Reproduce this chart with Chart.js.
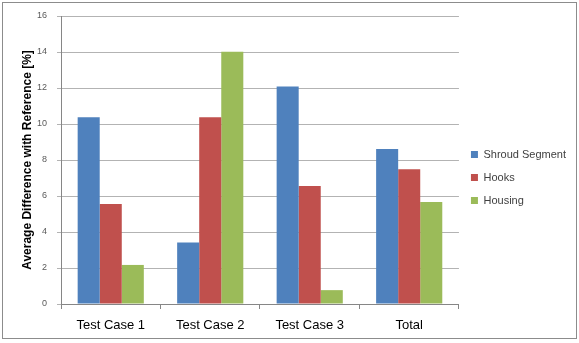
<!DOCTYPE html>
<html>
<head>
<meta charset="utf-8">
<script src="https://cdn.jsdelivr.net/npm/chart.js@4/dist/chart.umd.min.js"></script>
<style>
  html, body { margin: 0; padding: 0; background: #fff; }
  #wrap { width: 579px; height: 343px; position: relative; }
</style>
</head>
<body>
<div id="wrap"><canvas id="chart" width="579" height="343"></canvas></div>
<script>
// Data
const categories = ["Test Case 1", "Test Case 2", "Test Case 3", "Total"];
const shroudSegment = [10.37, 3.42, 12.08, 8.61];
const hooks = [5.56, 10.37, 6.56, 7.48];
const housing = [2.17, 14.02, 0.77, 5.67];
const yTicks = [0, 2, 4, 6, 8, 10, 12, 14, 16];

// Outer frame like the spreadsheet chart border
const framePlugin = {
  id: "frame",
  afterDraw(chart) {
    const ctx = chart.ctx;
    ctx.save();
    ctx.strokeStyle = "#8c8c8c";
    ctx.lineWidth = 1;
    ctx.strokeRect(2.5, 2.5, 574, 336);
    ctx.restore();
  },
};

new Chart(document.getElementById("chart"), {
  type: "bar",
  data: {
    labels: categories,
    datasets: [
      { label: "Shroud Segment", data: shroudSegment, backgroundColor: "#4f81bd" },
      { label: "Hooks", data: hooks, backgroundColor: "#c0504d" },
      { label: "Housing", data: housing, backgroundColor: "#9bbb59" },
    ],
  },
  options: {
    responsive: false,
    animation: false,
    layout: { padding: { left: 3, top: 16, right: 3, bottom: 4 } },
    datasets: {
      bar: { barPercentage: 1, categoryPercentage: 0.665 },
    },
    plugins: {
      legend: {
        position: "right",
        labels: {
          boxWidth: 7,
          boxHeight: 7,
          padding: 12,
          color: "#404040",
          font: { family: "Liberation Sans", size: 11 },
        },
      },
      tooltip: { enabled: false },
    },
    scales: {
      x: {
        grid: {
          display: true,
          drawOnChartArea: false,
          color: "#868686",
          tickLength: 5,
        },
        border: { color: "#868686" },
        ticks: {
          color: "#000",
          padding: 9,
          font: { family: "Liberation Sans", size: 13 },
        },
        afterFit(scale) { scale.height = 35; },
      },
      y: {
        min: 0,
        max: 16,
        afterBuildTicks(scale) {
          scale.ticks = yTicks.map((v) => ({ value: v }));
        },
        grid: { color: "#b3b3b3", tickLength: 4 },
        border: { color: "#868686" },
        ticks: {
          color: "#595959",
          padding: 10,
          font: { family: "Liberation Sans", size: 9 },
        },
        title: {
          display: true,
          text: "Average Difference with Reference [%]",
          color: "#000",
          padding: { top: 17, bottom: 0 },
          font: { family: "Liberation Sans", size: 12, weight: "bold" },
        },
        afterFit(scale) { scale.width = 58; },
      },
    },
  },
  plugins: [framePlugin],
});
</script>
</body>
</html>
